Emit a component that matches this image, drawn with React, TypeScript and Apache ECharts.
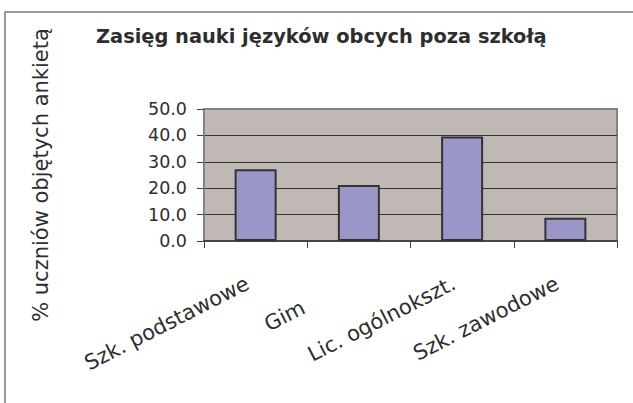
import React, { useEffect, useRef } from "react";
import * as echarts from "echarts";

const categories = ["Szk. podstawowe", "Gimnazja", "Lic. ogólnokszt.", "Szk. zawodowe"];
const values = [27.2, 21.2, 39.6, 8.8];
const titleText = "Zasięg nauki języków obcych poza szkołą";
const yAxisName = "% uczniów objętych ankietą";
const yMin = 0;
const yMax = 50;
const yStep = 10;

const FONT = "DejaVu Sans";

export default function App() {
  const ref = useRef<HTMLDivElement>(null);
  useEffect(() => {
    if (!ref.current) return;
    const chart = echarts.init(ref.current, undefined, { renderer: "svg" });
    const xData = categories.map((c, i) =>
      i === 1
        ? {
            value: c,
            textStyle: { width: 44, overflow: "truncate", ellipsis: "", padding: [0, 62, 0, 0] },
          }
        : c
    );
    chart.setOption({
      animation: false,
      backgroundColor: "#ffffff",
      title: {
        text: titleText,
        left: 96,
        top: 27,
        padding: 0,
        textStyle: { fontFamily: FONT, fontWeight: "bold", fontSize: 19.4, color: "#2e2e2e" },
      },
      graphic: [
        {
          type: "rect",
          shape: { x: 5, y: 12, width: 800, height: 600 },
          style: { fill: "none", stroke: "#7a7a7a", lineWidth: 1.5 },
          silent: true,
        },
      ],
      grid: {
        left: 204,
        top: 109,
        width: 413,
        height: 132,
        show: true,
        backgroundColor: "#c0b8b5",
        borderColor: "#8a807d",
        borderWidth: 2,
        outerBoundsMode: "none",
      },
      xAxis: {
        type: "category",
        data: xData,
        axisLine: { show: true, lineStyle: { color: "#333333", width: 1.5 } },
        axisTick: { show: true, length: 7, alignWithLabel: false, lineStyle: { color: "#444444" } },
        axisLabel: {
          interval: 0,
          rotate: 27,
          margin: 37,
          padding: [0, 9, 0, 0],
          fontFamily: FONT,
          fontSize: 21,
          color: "#2e2e2e",
          hideOverlap: false,
        },
        splitLine: { show: false },
      },
      yAxis: {
        type: "value",
        min: yMin,
        max: yMax,
        interval: yStep,
        name: yAxisName,
        nameLocation: "middle",
        nameRotate: 90,
        nameGap: 153,
        nameTextStyle: { fontFamily: FONT, fontSize: 21, color: "#2e2e2e" },
        axisLine: { show: true, lineStyle: { color: "#8a807d", width: 2 } },
        axisTick: { show: true, length: 7, lineStyle: { color: "#444444" } },
        axisLabel: {
          margin: 17,
          fontFamily: FONT,
          fontSize: 17.5,
          color: "#2e2e2e",
          formatter: (v: number) => v.toFixed(1),
        },
        splitLine: {
          show: true,
          showMinLine: false,
          showMaxLine: false,
          lineStyle: { color: "#333333", width: 1 },
        },
      },
      series: [
        {
          type: "bar",
          data: values,
          barWidth: 42,
          itemStyle: { color: "#9b96c8", borderColor: "#333333", borderWidth: 2 },
        },
      ],
    });
    return () => chart.dispose();
  }, []);
  return (
    <div
      ref={ref}
      style={{ position: "absolute", left: 0, top: 0, width: 633, height: 403 }}
    />
  );
}
